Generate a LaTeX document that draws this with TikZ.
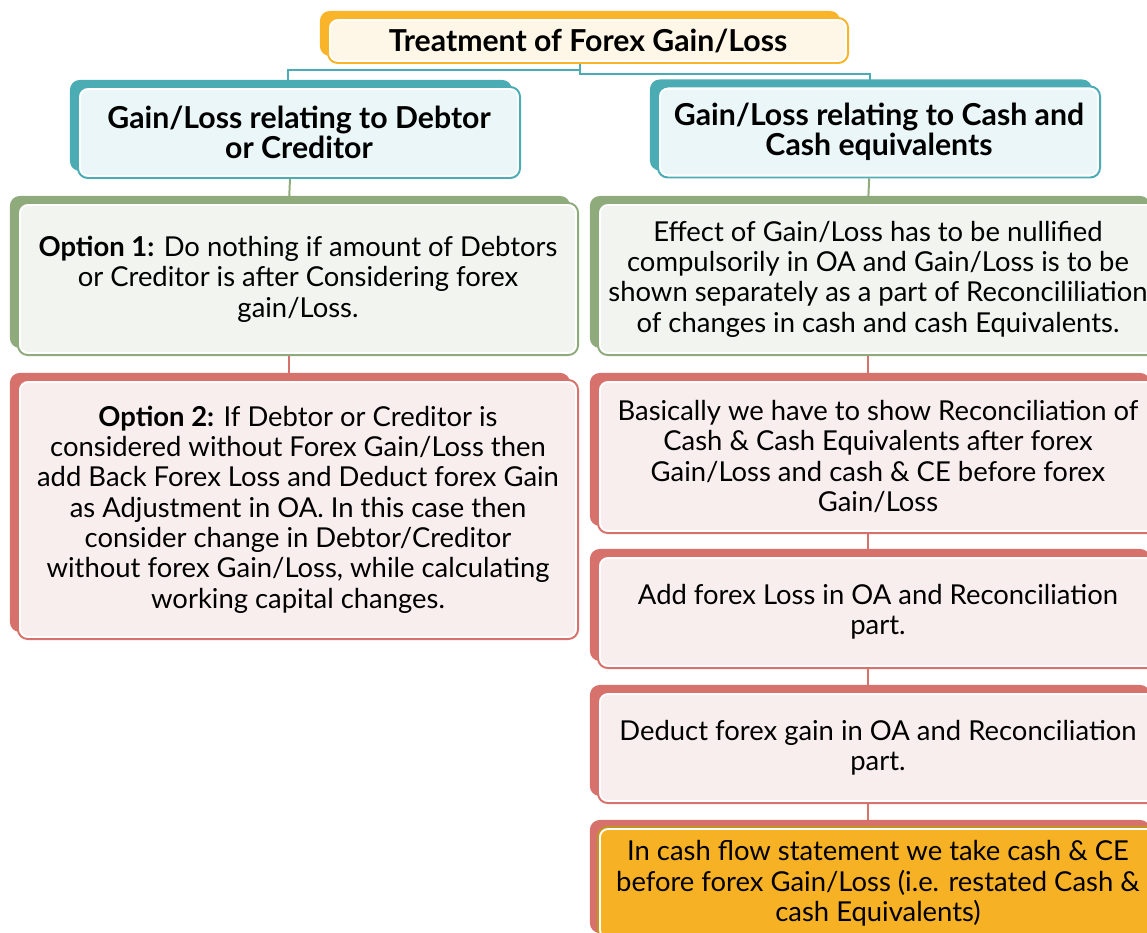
\documentclass[tikz,border=0pt]{standalone}
\usepackage{fontspec}
\setmainfont{Lato}
\usetikzlibrary{shadows,calc,positioning,backgrounds}
\definecolor{tealc}{RGB}{75,172,180}
\definecolor{tealf}{RGB}{234,246,247}
\definecolor{orc}{RGB}{249,180,42}
\definecolor{orf}{RGB}{254,246,231}
\definecolor{grc}{RGB}{143,170,123}
\definecolor{grf}{RGB}{242,244,239}
\definecolor{rdc}{RGB}{214,113,108}
\definecolor{rdf}{RGB}{249,238,238}
\definecolor{goldc}{RGB}{196,148,34}
\definecolor{goldf}{RGB}{246,178,36}
\tikzset{
    x=0.025cm, y=-0.025cm, semithick,
    card/.style n args={3}{rectangle, rounded corners=7pt, draw=#1, line width=1.4pt, fill=white,
        align=center, inner sep=0pt, font=\fontsize{19.5}{21.6}\selectfont,
        general shadow={fill=#3, shadow xshift=-5.7pt, shadow yshift=5pt},
        path picture={\fill[#2, rounded corners=5pt]
            ([shift={(2.2pt,2.2pt)}]path picture bounding box.south west) rectangle
            ([shift={(-2.2pt,-2.2pt)}]path picture bounding box.north east);}},
    head/.style={font=\fontsize{21.5}{21.6}\selectfont\bfseries},
    link/.style={draw=#1, line width=1.4pt}
}

\begin{document}
\begin{tikzpicture}
	\tikzstyle{tl}=[card={orc}{orf}{orc}, head, minimum width=13cm, minimum height=1.125cm]
	\tikzstyle{hd}=[card={tealc}{tealf}{tealc}, head, minimum width=11.05cm, minimum height=2.275cm]
	\tikzstyle{gr}=[card={grc}{grf}{grc}, minimum width=14cm]
	\tikzstyle{rd}=[card={rdc}{rdf}{rdc}, minimum width=14cm]
	\tikzstyle{og}=[card={goldc}{goldf}{rdc}, minimum width=14cm]

	\useasboundingbox (0,0) rectangle (1147,933);

	\node[tl] (1) at (588,40.5) {Treatment of Forex Gain/Loss};
	\node[hd] (2) at (299,132.5) {Gain/Loss relating to Debtor\\or Creditor};
	\node[hd] (3) at (879,132) {Gain/Loss relating to Cash and\\Cash equivalents};

	\node[gr, minimum height=3.8cm] (4) at (298,279)
		{\textbf{Option 1:} Do nothing if amount of Debtors\\or Creditor is after Considering forex\\gain/Loss.};
	\node[rd, minimum height=6.475cm] (5) at (298,509.5)
		{\textbf{Option 2:} If Debtor or Creditor is\\considered without Forex Gain/Loss then\\add Back Forex Loss and Deduct forex Gain\\as Adjustment in OA. In this case then\\consider change in Debtor/Creditor\\without forex Gain/Loss, while calculating\\working capital changes.};

	\node[gr, minimum height=3.8cm] (6) at (878,279)
		{Effect of Gain/Loss has to be nullified\\compulsorily in OA and Gain/Loss is to be\\shown separately as a part of Reconcililiation\\of changes in cash and cash Equivalents.};
	\node[rd, minimum height=3.825cm] (7) at (878,456.5)
		{Basically we have to show Reconciliation of\\Cash \& Cash Equivalents after forex\\Gain/Loss and cash \& CE before forex\\Gain/Loss};
	\node[rd, minimum height=2.8cm] (8) at (878,612)
		{Add forex Loss in OA and Reconciliation\\part.};
	\node[rd, minimum height=2.775cm] (9) at (878,747.5)
		{Deduct forex gain in OA and Reconciliation\\part.};
	\node[og, minimum height=2.825cm] (10) at (878,883.5)
		{In cash flow statement we take cash \& CE\\before forex Gain/Loss (i.e. restated Cash \&\\cash Equivalents)};

	\begin{scope}[on background layer]
	\draw[link=tealc] ([xshift=-5.7pt]1.south) -- ++(0,6) -| ([xshift=-7.8pt]2.north);
	\draw[link=tealc] ([xshift=-5.7pt]1.south) -- ++(0,10) -| ([xshift=-6.4pt]3.north);
	\draw[link=grc] ([xshift=-6.4pt]2.south) -- ([xshift=-6.4pt]4.north);
	\draw[link=rdc] ([xshift=-6.4pt]4.south) -- ([xshift=-6.4pt]5.north);
	\draw[link=grc] ([xshift=-7pt]3.south) -- ([xshift=-7pt]6.north);
	\draw[link=rdc] ([xshift=-7pt]6.south) -- ([xshift=-7pt]7.north);
	\draw[link=rdc] ([xshift=-7pt]7.south) -- ([xshift=-7pt]8.north);
	\draw[link=rdc] ([xshift=-7pt]8.south) -- ([xshift=-7pt]9.north);
	\draw[link=rdc] ([xshift=-7pt]9.south) -- ([xshift=-7pt]10.north);
	\end{scope}
\end{tikzpicture}
\end{document}
